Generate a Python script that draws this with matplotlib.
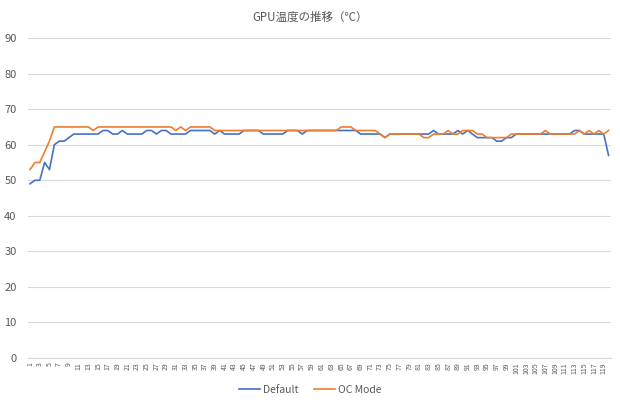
import matplotlib
matplotlib.use("Agg")
import matplotlib.pyplot as plt

title = "GPU温度の推移（℃）"
series_names = ["Default", "OC Mode"]
x_values = list(range(1, 121))
tick_labels = [str(i) for i in range(1, 121, 2)]

default_temp = [
    49, 50, 50, 55, 53, 60, 61, 61, 62, 63,
    63, 63, 63, 63, 63, 64, 64, 63, 63, 64,
    63, 63, 63, 63, 64, 64, 63, 64, 64, 63,
    63, 63, 63, 64, 64, 64, 64, 64, 63, 64,
    63, 63, 63, 63, 64, 64, 64, 64, 63, 63,
    63, 63, 63, 64, 64, 64, 63, 64, 64, 64,
    64, 64, 64, 64, 64, 64, 64, 64, 63, 63,
    63, 63, 63, 62, 63, 63, 63, 63, 63, 63,
    63, 63, 63, 64, 63, 63, 63, 63, 64, 63,
    64, 63, 62, 62, 62, 62, 61, 61, 62, 62,
    63, 63, 63, 63, 63, 63, 63, 63, 63, 63,
    63, 63, 64, 64, 63, 63, 63, 63, 63, 57,
]

oc_temp = [
    53, 55, 55, 58, 61, 65, 65, 65, 65, 65,
    65, 65, 65, 64, 65, 65, 65, 65, 65, 65,
    65, 65, 65, 65, 65, 65, 65, 65, 65, 65,
    64, 65, 64, 65, 65, 65, 65, 65, 64, 64,
    64, 64, 64, 64, 64, 64, 64, 64, 64, 64,
    64, 64, 64, 64, 64, 64, 64, 64, 64, 64,
    64, 64, 64, 64, 65, 65, 65, 64, 64, 64,
    64, 64, 63, 62, 63, 63, 63, 63, 63, 63,
    63, 62, 62, 63, 63, 63, 64, 63, 63, 64,
    64, 64, 63, 63, 62, 62, 62, 62, 62, 63,
    63, 63, 63, 63, 63, 63, 64, 63, 63, 63,
    63, 63, 63, 64, 63, 64, 63, 64, 63, 64,
]

y_ticks = [0, 10, 20, 30, 40, 50, 60, 70, 80, 90]

plt.rcParams['font.family'] = ['Noto Sans CJK JP', 'DejaVu Sans']

fig = plt.figure(figsize=(6.2, 4.05), dpi=100)
ax = fig.add_axes([0.0445, 0.116, 0.941, 0.790])

text_color = "#595959"
grid_color = "#D9D9D9"

ax.plot(x_values, default_temp, color="#4472C4", linewidth=1.2, label=series_names[0])
ax.plot(x_values, oc_temp, color="#ED7D31", linewidth=1.2, label=series_names[1])

ax.set_xlim(0.5, 120.5)
ax.set_ylim(0, 90)
ax.set_yticks(y_ticks)
ax.set_xticks(list(range(1, 121, 2)))
ax.set_xticklabels(tick_labels, rotation=90, fontsize=5, color=text_color)
ax.tick_params(axis='y', labelsize=8, labelcolor=text_color, length=0, pad=8)
ax.tick_params(axis='x', length=0, pad=3)

ax.grid(axis='y', color=grid_color, linewidth=0.8)
ax.set_axisbelow(True)
for s in ["top", "right", "left"]:
    ax.spines[s].set_visible(False)
ax.spines["bottom"].set_color(grid_color)
ax.spines["bottom"].set_linewidth(0.8)

fig.text(0.5, 0.958, title, ha='center', va='center', fontsize=8.3, color=text_color)

leg = fig.legend(loc='center', bbox_to_anchor=(0.5, 0.037), ncol=2, frameon=False,
                 fontsize=7.5, handlelength=2.0, columnspacing=1.5, handletextpad=0.3)
for t in leg.get_texts():
    t.set_color(text_color)

fig.savefig("out.png", dpi=100)
